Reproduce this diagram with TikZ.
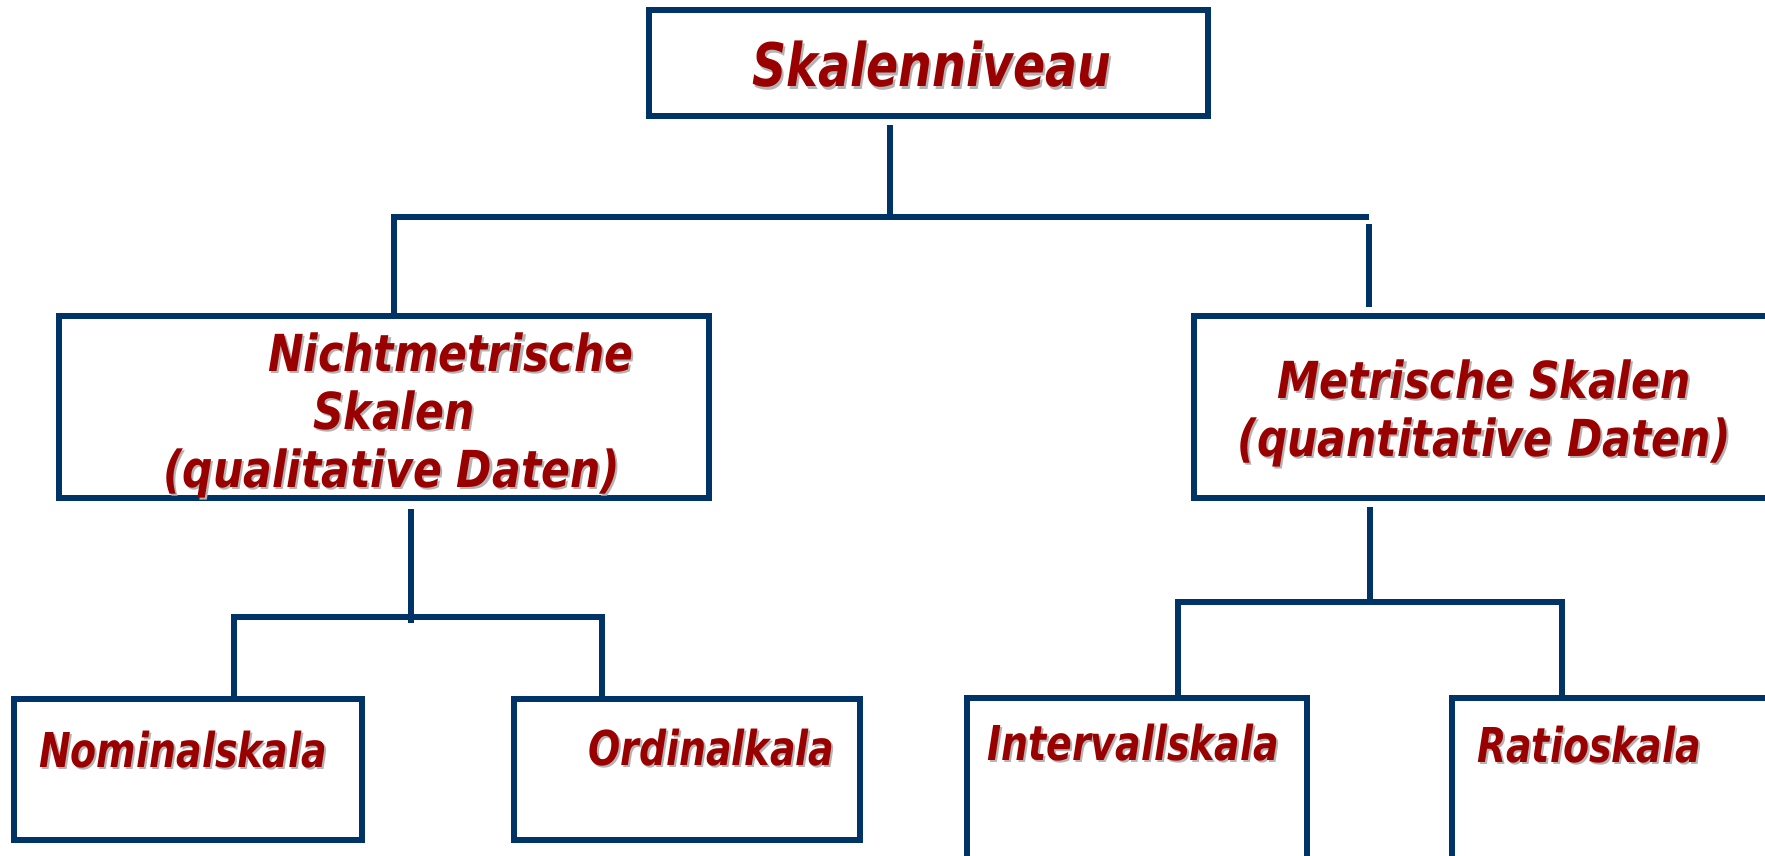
\documentclass[tikz,border=0pt]{standalone}
\usepackage{fontspec}
\setmainfont{DejaVu Sans}
\usepackage{tikz}
\usetikzlibrary{positioning}
\definecolor{boxblue}{HTML}{003366}
\definecolor{txtred}{HTML}{990000}
\definecolor{shgray}{HTML}{B4B4B4}
% text with a grey drop shadow: style, name, anchor, position, text
\newcommand{\shlabel}[5]{%
  \node[#1,anchor=#3,text=shgray,xshift=2.5pt,yshift=-2.5pt] at (#4) {#5};
  \node[#1,anchor=#3] (#2) at (#4) {#5};}

\begin{document}
\begin{tikzpicture}[x=1pt, y=-1pt,
  box/.style={draw=boxblue, line width=6pt, inner sep=0pt},
  conn/.style={draw=boxblue, line width=6pt},
  toplbl/.style={text=txtred, inner sep=0pt, xscale=0.79, font=\fontsize{60}{72}\selectfont\bfseries\itshape},
  midlbl/.style={text=txtred, inner sep=0pt, xscale=0.835, font=\fontsize{51}{58}\selectfont\bfseries\itshape},
  lowlbl/.style={text=txtred, inner sep=0pt, xscale=0.79, font=\fontsize{48}{56}\selectfont\bfseries\itshape}]
\useasboundingbox (0,0) rectangle (1765,856);

% boxes
\node[box, minimum width=559pt, minimum height=106pt] (top) at (928.5,63) {};
\node[box, minimum width=650pt, minimum height=182pt] (nm) at (384,407) {};
\node[box, minimum width=606pt, minimum height=182pt] (me) at (1497,407) {};
\node[box, minimum width=348pt, minimum height=141pt] (nom) at (188,769.5) {};
\node[box, minimum width=346pt, minimum height=141pt] (ord) at (687,769.5) {};
\node[box, minimum width=340pt, minimum height=182pt] (int) at (1137,789) {};
\node[box, minimum width=348pt, minimum height=182pt] (rat) at (1626,789) {};

% labels
\shlabel{toplbl}{skn}{base}{932,87}{Skalenniveau}
\shlabel{midlbl}{nm1}{base west}{268,371}{Nichtmetrische}
\shlabel{midlbl}{nm2}{base west}{313,429}{Skalen}
\shlabel{midlbl}{nm3}{base west}{163,487}{(qualitative Daten)}
\shlabel{midlbl}{me1}{base}{1484,398}{Metrische Skalen}
\shlabel{midlbl}{me2}{base}{1484,456}{(quantitative Daten)}
\shlabel{lowlbl}{noml}{base west}{39,767}{Nominalskala}
\shlabel{lowlbl}{ordl}{base west}{588,765}{Ordinalkala}
\shlabel{lowlbl}{intl}{base west}{987,760}{Intervallskala}
\shlabel{lowlbl}{ratl}{base west}{1477,762}{Ratioskala}

% connectors
\coordinate (tj) at (890,217);
\coordinate (tjl) at (394,217);
\coordinate (tjr) at (1369,217);
\draw[conn, shorten <=6pt] (top.south -| tj) -- (tj);
\draw[conn] (nm.north -| tjl) -- (tjl) -- (tjr);
\draw[conn, shorten <=7pt, shorten >=6pt] (tjr) -- (me.north -| tjr);

\coordinate (lj) at (411,617);
\coordinate (ljl) at (234,617);
\coordinate (ljr) at (602,617);
\draw[conn, shorten <=8pt, shorten >=-6pt] (nm.south -| lj) -- (lj);
\draw[conn] (nom.north -| ljl) -- (ljl) -- (ljr) -- (ord.north -| ljr);

\coordinate (rj) at (1370,602);
\coordinate (rjl) at (1178,602);
\coordinate (rjr) at (1562,602);
\draw[conn, shorten <=6pt] (me.south -| rj) -- (rj);
\draw[conn] (int.north -| rjl) -- (rjl) -- (rjr) -- (rat.north -| rjr);
\end{tikzpicture}
\end{document}
